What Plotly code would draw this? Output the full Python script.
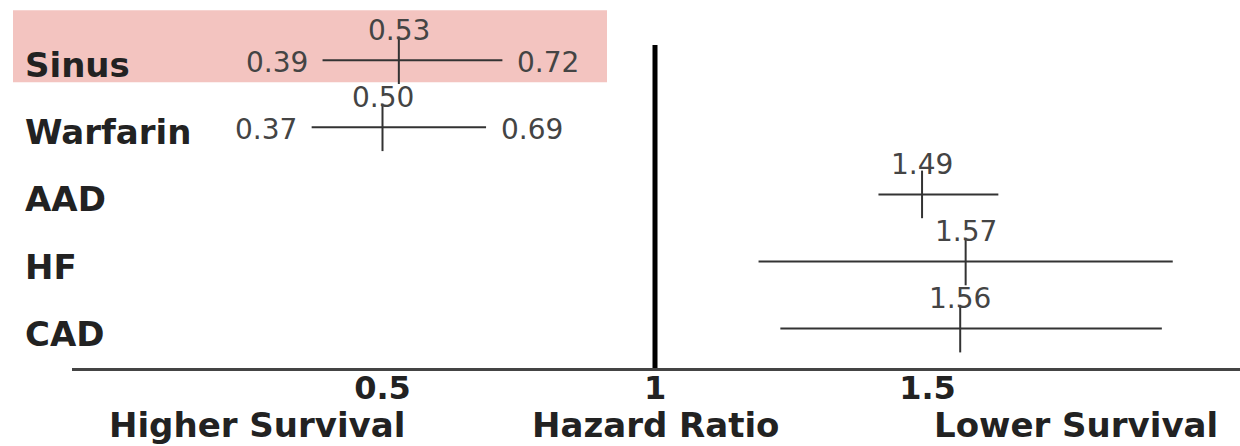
import plotly.graph_objects as go

# ---- data ----
categories = ["Sinus", "Warfarin", "AAD", "HF", "CAD"]
hazard_ratio = [0.53, 0.50, 1.49, 1.57, 1.56]
ci_low = [0.39, 0.37, 1.41, 1.19, 1.23]
ci_high = [0.72, 0.69, 1.63, 1.95, 1.93]
show_ci_labels = [True, True, False, False, False]
tick_values = [0.5, 1, 1.5]
tick_labels = ["0.5", "1", "1.5"]
highlight = "Sinus"

FONT = "DejaVu Sans"
W, H = 1240, 446
AXIS_PX = 368  # x-axis line, pixels from top
INK = "#333333"
TXT = "#444444"
DARK = "#222222"

fig = go.Figure()

fig.add_trace(go.Scatter(
    x=hazard_ratio,
    y=categories,
    mode="markers",
    marker=dict(symbol="line-ns", size=34, color=INK,
                line=dict(width=2, color=INK)),
    error_x=dict(type="data", symmetric=False,
                 array=[h - e for h, e in zip(ci_high, hazard_ratio)],
                 arrayminus=[e - l for e, l in zip(hazard_ratio, ci_low)],
                 width=0, thickness=2, color=INK),
    showlegend=False,
    hoverinfo="skip",
    cliponaxis=False,
))

annotations = []
small = dict(family=FONT, size=28, color=TXT)
# point-estimate labels above each tick
for cat, hr in zip(categories, hazard_ratio):
    annotations.append(dict(x=hr, y=cat, xref="x", yref="y", text=f"{hr:.2f}",
                            showarrow=False, xanchor="center", yanchor="middle",
                            yshift=30, font=small))
# CI end labels
for cat, lo, hi, show in zip(categories, ci_low, ci_high, show_ci_labels):
    if not show:
        continue
    annotations.append(dict(x=lo, y=cat, xref="x", yref="y", text=f"{lo:.2f}",
                            showarrow=False, xanchor="right", xshift=-13, yshift=-2,
                            font=small))
    annotations.append(dict(x=hi, y=cat, xref="x", yref="y", text=f"{hi:.2f}",
                            showarrow=False, xanchor="left", xshift=13, yshift=-2,
                            font=small))
# row labels
for cat in categories:
    annotations.append(dict(x=23 / W, y=cat, xref="paper", yref="y", text=f"<b>{cat}</b>",
                            showarrow=False, xanchor="left", yanchor="middle", yshift=-5,
                            font=dict(family=FONT, size=34, color=DARK)))
# bottom labels
for txt, px in [("Higher Survival", 257), ("Hazard Ratio", 655), ("Lower Survival", 1076)]:
    annotations.append(dict(x=px / W, y=(AXIS_PX - 425) / AXIS_PX, xref="paper", yref="paper",
                            text=f"<b>{txt}</b>", showarrow=False,
                            xanchor="center", yanchor="middle",
                            font=dict(family=FONT, size=34, color=DARK)))

hi_idx = len(categories) - 1 - categories.index(highlight)
shapes = [
    # highlight band behind the Sinus row
    dict(type="rect", xref="paper", yref="y",
         x0=13 / W, x1=607 / W, y0=hi_idx - 0.33, y1=hi_idx + 0.745,
         fillcolor="#f3c4c0", line=dict(width=0), layer="below"),
    # reference line at HR = 1
    dict(type="line", xref="x", yref="paper", x0=1, x1=1,
         y0=0, y1=1 - 45 / AXIS_PX, line=dict(color="#000000", width=5)),
]

# x: pixel 72 .. 1240, HR 1 at px 655, 545 px per unit
s = 545.0
x0 = 1 - (655 - 72) / s
x1 = 1 + (W - 655) / s

fig.update_layout(
    width=W, height=H,
    margin=dict(l=0, r=0, t=0, b=H - AXIS_PX, pad=0),
    paper_bgcolor="white", plot_bgcolor="white",
    annotations=annotations, shapes=shapes,
    xaxis=dict(domain=[72 / W, 1], range=[x0, x1],
               tickvals=tick_values, ticktext=[f"<b>{t}</b>" for t in tick_labels],
               tickfont=dict(family=FONT, size=32, color=DARK),
               ticklabelstandoff=-10,
               showgrid=False, zeroline=False, showline=True,
               linecolor="#444444", linewidth=3, ticks=""),
    yaxis=dict(categoryorder="array", categoryarray=categories[::-1],
               range=[-0.587, 4.897], showticklabels=False,
               showgrid=False, zeroline=False, showline=False),
)

fig.write_html("out.html",
               config={"displayModeBar": False},
               post_script="document.body.style.margin='0';document.body.style.padding='0';")
